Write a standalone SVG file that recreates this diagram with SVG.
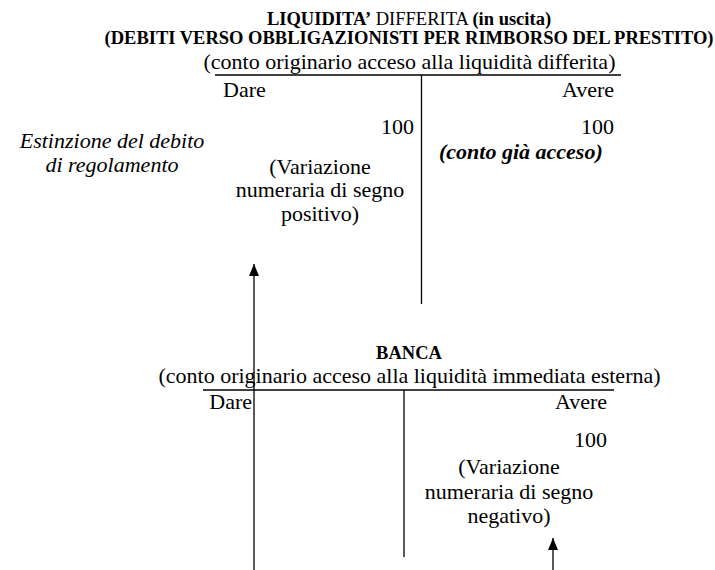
<svg xmlns="http://www.w3.org/2000/svg" width="715" height="570" viewBox="0 0 715 570">
  <style>
    text { font-family: 'Liberation Serif', 'DejaVu Serif', serif; fill: #000; }
    .t { font-size: 18.5px; }
    .b { font-weight: bold; }
    .r { font-size: 22px; }
    .i { font-style: italic; }
    .m { text-anchor: middle; }
    .e { text-anchor: end; }
    .ln { stroke: #000; stroke-width: 1.3; fill: none; }
  </style>
  <defs>
    <marker id="ah" viewBox="0 0 12 10" refX="12" refY="5" markerWidth="12" markerHeight="10" markerUnits="userSpaceOnUse" orient="auto">
      <path d="M0,0 L12,5 L0,10 Z" fill="#000"/>
    </marker>
  </defs>
  <rect width="715" height="570" fill="#fff"/>

  <g id="liquidita-differita">
    <text class="t m" x="409" y="24.5"><tspan class="b">LIQUIDITA’</tspan> DIFFERITA <tspan class="b">(in uscita)</tspan></text>
    <text class="t b m" x="409" y="43.5">(DEBITI VERSO OBBLIGAZIONISTI PER RIMBORSO DEL PRESTITO)</text>
    <text class="r m" x="409.5" y="68.5">(conto originario acceso alla liquidità differita)</text>
    <line class="ln" x1="215" y1="75" x2="621" y2="75"/>
    <line class="ln" x1="421.5" y1="75" x2="421.5" y2="304"/>
    <text class="r" x="223" y="97">Dare</text>
    <text class="r e" x="614" y="97">Avere</text>
    <text class="r e" x="414" y="134">100</text>
    <text class="r e" x="614" y="134">100</text>
    <text class="r b i" x="439" y="159">(conto già acceso)</text>
    <text class="r m" x="320" y="174">(Variazione</text>
    <text class="r m" x="320" y="197">numeraria di segno</text>
    <text class="r m" x="320" y="221">positivo)</text>
  </g>

  <g id="estinzione">
    <text class="r i m" x="112" y="148">Estinzione del debito</text>
    <text class="r i m" x="112" y="172">di regolamento</text>
  </g>

  <g id="banca">
    <text class="t b m" x="409" y="359">BANCA</text>
    <text class="r m" x="409.5" y="383">(conto originario acceso alla liquidità immediata esterna)</text>
    <line class="ln" x1="203" y1="390" x2="614" y2="390"/>
    <line class="ln" x1="404" y1="390" x2="404" y2="557"/>
    <text class="r e" x="252" y="409">Dare</text>
    <text class="r e" x="607" y="409">Avere</text>
    <text class="r e" x="607" y="447">100</text>
    <text class="r m" x="509" y="474">(Variazione</text>
    <text class="r m" x="509" y="499">numeraria di segno</text>
    <text class="r m" x="509" y="523">negativo)</text>
  </g>

  <g id="connectors">
    <line class="ln" x1="254" y1="570" x2="254" y2="264" marker-end="url(#ah)"/>
    <line class="ln" x1="553" y1="570" x2="553" y2="538" marker-end="url(#ah)"/>
  </g>
</svg>
